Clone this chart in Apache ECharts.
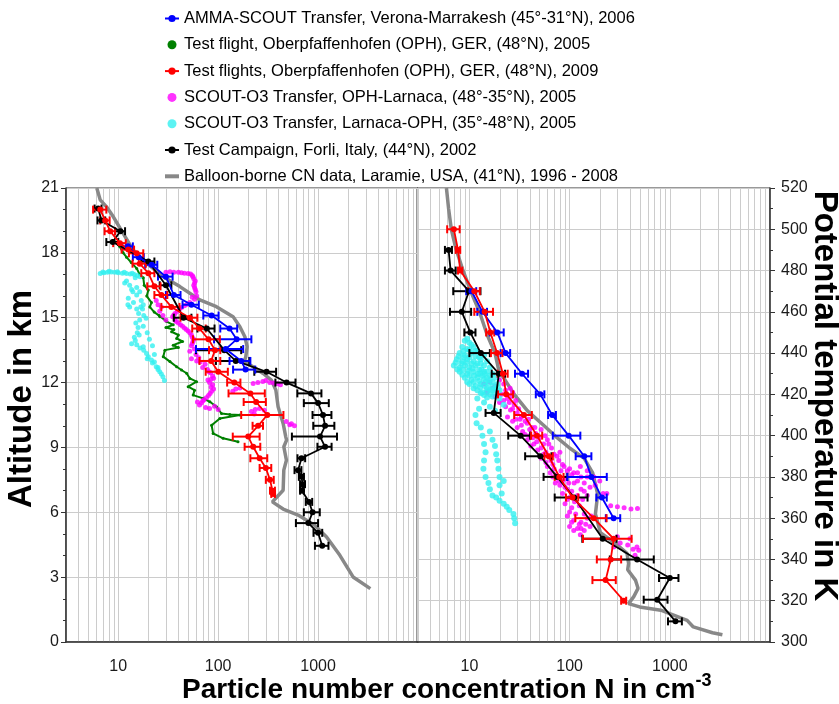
<!DOCTYPE html>
<html><head><meta charset="utf-8">
<script src="https://cdn.jsdelivr.net/npm/echarts@6/dist/echarts.min.js"></script>
<style>html,body{margin:0;padding:0;background:#fff}#c{width:839px;height:704px}</style>
</head><body><div id="c"></div>
<script>
// ---------- tick labels / axis ranges ----------
const xTickLabels = [10, 100, 1000];
const minorXTicks = [4,5,6,7,8,9,20,30,40,50,60,70,80,90,200,300,400,500,600,700,800,900,2000,3000,4000,5000,6000,7000,8000,9000];
const altRange = [0, 21, 3];
const thetaRange = [300, 520, 20];
const xRange = [3, 10000];

// ---------- legend names ----------
const nAmma = 'AMMA-SCOUT Transfer, Verona-Marrakesh (45°-31°N), 2006';
const nTf05 = 'Test flight, Oberpfaffenhofen (OPH), GER, (48°N), 2005';
const nTf09 = 'Test flights, Oberpfaffenhofen (OPH), GER, (48°N), 2009';
const nOut = 'SCOUT-O3 Transfer, OPH-Larnaca, (48°-35°N), 2005';
const nIn = 'SCOUT-O3 Transfer, Larnaca-OPH, (35°-48°N), 2005';
const nForli = 'Test Campaign, Forli, Italy, (44°N), 2002';
const nBalloon = 'Balloon-borne CN data, Laramie, USA, (41°N), 1996 - 2008';

// ---------- LEFT PANEL: [N (cm^-3), altitude (km), (error)] ----------
const balloonAlt = [[6.1,21.0],[6.6,20.45],[7.6,20.14],[8.9,19.68],[11.2,18.9],[14.1,18.13],[19.2,17.52],[28.2,16.9],[41.4,16.44],[65.6,15.82],[96,15.51],[141,15.05],[165,14.58],[185,14.12],[195,13.66],[189,13.19],[182,12.96],[224,12.73],[282,12.42],[341,12.11],[378,11.65],[398,10.88],[447,10.11],[475,9.49],[484,9.34],[454,9.03],[482,8.41],[454,7.95],[447,7.02],[349,6.48],[447,6.15],[631,5.87],[925,5.4],[1216,4.86],[1652,4.01],[2239,3.01],[3336,2.47]];
const forliAlt = [[6.3,20.05,0.5],[6.8,19.5,0.6],[10.5,19.0,1.2],[8.8,18.5,1.2],[20,17.6,3],[30,16.5,4],[45,15.0,9],[77,14.5,15],[115,13.5,55],[150,13.0,55],[305,12.5,75],[484,12.0,110],[850,11.5,230],[1000,11.05,280],[1120,10.5,240],[1175,10.0,280],[1047,9.5,500],[1175,9.03,190],[682,8.5,60],[631,7.95,50],[682,7.64,40],[700,7.3,40],[690,7.0,30],[813,6.48,60],[880,6.0,160],[800,5.5,200],[1000,5.05,100],[1100,4.45,170]];
const redAlt = [[6.6,20.0,1.0],[7.4,19.5,0.8],[8.3,19.0,1.0],[10.4,18.45,1.5],[12.6,18.15,1.8],[15.3,17.98,2.5],[16.4,17.5,2.5],[20,17.06,3],[23,16.45,3.5],[27,16.05,4],[34,15.5,7],[52,15.0,10],[65,14.5,10],[80,14.0,24],[93,13.5,12],[85,13.0,20],[100,12.5,25],[145,12.0,22],[210,11.5,83],[240,11.1,60],[310,10.5,140],[251,10.0,30],[200,9.5,60],[224,9.03,40],[260,8.5,50],[300,8.05,40],[330,7.5,30],[350,7.0,20],[355,6.85,15]];
const blueAlt = [[12.5,18.3,1.5],[16,17.8,2],[21.6,17.45,3],[30,16.9,5],[36,16.05,6],[54,15.6,10],[86,15.1,15],[130,14.5,25],[153,14.0,62],[119,13.55,59],[170,13.0,40],[188,12.6,47]];
const greenAlt = [[9.3,18.5],[10.3,18.3],[11.2,18.0],[12.1,17.8],[13.5,17.55],[15.3,17.28],[16.4,17.0],[17.8,16.85],[18.2,16.5],[20,16.28],[19.3,16.0],[21.5,15.7],[20.7,15.5],[22.9,15.26],[25.7,15.1],[26.1,15.05],[30.5,14.82],[35.5,14.67],[30,14.55],[36,14.45],[34.2,14.35],[40,14.2],[38.4,14.04],[44,13.9],[35.5,13.73],[40,13.62],[29.3,13.5],[28.2,13.2],[32.9,12.97],[38.4,12.73],[43,12.58],[48.3,12.43],[52.1,12.19],[60.8,12.04],[50.1,11.81],[58,11.65],[56.2,11.42],[70.8,11.27],[82.6,11.11],[96.3,10.88],[108,10.57],[131,10.52],[165,10.5],[104,10.34],[85.9,10.03],[89,9.65],[112,9.42],[158,9.26]];
const magentaAlt = [[30,17.1],[33,17.13],[36,17.1],[40,17.1],[43,17.08],[46,17.06],[50,17.05],[53,17.02],[55,16.95],[57,16.8],[58,16.6],[58,16.4],[60,16.2],[61,16.0],[58,15.85],[52,15.7],[46,15.55],[41,15.4],[37,15.2],[35,15.05],[37,14.9],[40,14.75],[44,14.6],[48,14.45],[52,14.3],[55,14.1],[56,13.9],[54,13.7],[52,13.45],[54,13.1],[61,13.0],[66,12.95],[70,12.7],[78,12.6],[84,12.45],[88,12.3],[85,12.15],[79,12.12],[82,12.0],[85,11.8],[86,11.6],[80,11.4],[72,11.2],[68,11.05],[65,10.96],[75,10.85],[82,10.8],[27,15.5],[26,15.3],[28,15.1],[30,14.9],[24,15.8],[25,15.6],[224,11.96],[250,12.0],[280,12.05],[300,12.1],[328,12.0],[360,11.98],[390,11.95],[420,11.9],[150,11.7],[165,11.75],[140,11.6],[215,10.66],[235,10.75],[260,10.8],[290,10.72],[230,10.55],[480,10.2],[541,10.1],[580,10.0],[520,10.05],
  [56,16.9],[59,16.7],[57,16.5],[59,16.3],[55,15.95],[49,15.62],[43,15.47],[39,15.3],[36,15.12],[38,14.82],[42,14.68],[46,14.52],[50,14.38],[54,14.2],[57,14.0],[55,13.8],[58,13.55],[60,13.3],[64,13.15],[74,12.85],[81,12.5],[90,12.2],[88,11.9],[90,11.7],[83,11.5],[76,11.3],[70,11.15],[62,11.1],[92,10.9],[100,10.75]];
const cyanAlt = [[6.6,17.05],[7.2,17.08],[7.8,17.1],[8.5,17.12],[9.2,17.1],[10,17.08],[11,17.06],[12.1,17.05],[13.2,17.02],[14.5,17.0],[15.5,16.95],[16.5,16.9],[12.1,16.7],[11.6,16.6],[13.6,16.3],[15.3,16.4],[14,16.2],[15.3,16.05],[13,15.5],[12.5,15.6],[15.3,15.4],[17.8,15.6],[16,15.2],[16.4,14.9],[15,14.75],[17.8,14.6],[15.5,14.3],[14.5,14.1],[13.6,13.8],[15.3,13.75],[17.8,13.66],[19.2,13.35],[18,13.5],[21.5,13.04],[20,13.2],[24,12.73],[22,12.9],[26,12.5],[28,12.27],[29,12.1],[16.4,16.2],[17,15.8],[17.5,15.4],[18,15.1],[19,14.97],[19.5,14.3],[20.5,14.0],[22,13.7],[23,13.3],[25,12.7],[27,12.4],
  [7,17.12],[8.1,17.15],[9.8,17.13],[11.5,17.1],[13.8,17.06],[14.8,16.85],[13,16.5],[12.6,15.9],[14.2,15.7],[16.8,15.5],[15.8,14.55],[16.2,14.2],[14.8,13.95],[16.5,13.6],[19.5,13.1],[23,12.95],[25,12.6]];

// ---------- RIGHT PANEL: [N (cm^-3), potential temperature (K), (error)] ----------
const balloonTh = [[5.9,520],[6.2,510],[6.6,500],[7.3,491],[8.5,481],[10.3,470],[12.6,460],[15,449],[18,440],[19.8,431],[22,428],[28,420],[38,412],[55,405],[75,399],[100,394],[140,389],[170,382],[190,372],[187,368],[181,362],[203,353],[300,347],[374,343],[388,338],[380,335],[454,330],[482,326],[437,322],[388,318.6],[500,317],[813,315.4],[1490,310.5],[1718,307.3],[2667,304.5],[3350,303.5]];
const forliTh = [[6.2,490,0.5],[6.5,480,0.8],[9.9,470,3],[8.4,460,2],[10.2,450,1.3],[13,440,3],[19.7,430,3],[17.5,411,3],[32.4,400,8],[51,390,15],[75,380,20],[111,370,40],[214,350,80],[472,340,220],[1000,331,220],[749,320.5,200],[1140,310,180]];
const redTh = [[7.0,500,1],[7.7,490,0.4],[8.1,480,0.4],[11.2,470,1.5],[14.2,460,3],[16.2,450,1.5],[18.9,440,2.5],[21.6,430,2.5],[23.3,420,4],[35,410,7],[47.3,400,6],[62,390,6],[79,380,8],[107,370,15],[174,360,60],[276,350,140],[257,340,70],[229,330,60],[347,320,20]];
const blueTh = [[10.5,470,1.2],[13.5,460,1.5],[19,450,3],[23,440,2.5],[33.5,430,5],[51,420,5],[67,410,6],[98,400,30],[140,390,25],[165,380,70],[210,370,25],[275,360,45]];
const magentaTh = [[13.9,425],[16,426],[18,424],[20,427],[22,425],[25.5,423],[15,421],[18,419],[21,420],[24,418],[27,421],[20,416],[23,414],[25.7,412.4],[28,415],[30,411],[24,409],[27,407],[32,408],[35,410],[30,404],[37.8,406],[42,404],[34,402],[40,400],[46,401],[52,403],[38,398],[44,396],[55,396],[60,398],[48,393],[58,392],[66,394],[52,389],[65,388],[75,390],[80,392],[60,385],[70,384],[85,386],[95,383],[68,380],[78,378],[90,379],[105,381],[120,382],[128,385],[150,383],[80,376],[95,374],[111,377],[130,380],[150,380],[175,380],[200,378],[216,372],[85,372],[100,370],[120,371],[140,373],[160,375],[235,372],[90,367],[105,365],[125,366],[257,366],[300,365.5],[350,365],[410,364.5],[476,364.7],[95,361],[110,359],[130,358],[150,360],[100,356],[120,355],[140,354],[160,356],[128,352],[276,346],[320,348],[380,347],[430,345],[470,346],[490,344.5],[300,351],[400,350],[450,342],
  [17,423],[19,421.5],[23,422],[26,419],[22,417],[25,416],[29,417],[27,413],[31,413],[33,409],[29,408],[36,407],[39,408],[33,405],[40,403],[45,404],[36,400.5],[43,399],[50,399],[57,400],[41,395],[47,397],[52,394],[62,396],[55,391],[62,390],[70,391],[58,387],[68,386],[78,388],[88,385],[64,382],[74,381],[82,383],[100,384],[110,382],[72,377],[85,378],[98,377],[120,378],[140,377],[90,375],[105,373],[130,374],[180,376],[95,369],[112,368],[135,369],[150,371],[100,363],[115,362],[140,362],[165,361],[105,358],[125,357],[145,357],[110,354],[130,355]];
const cyanTh = [[9,446],[10,445],[8.5,443],[9.5,442],[11,443],[8,440],[9,439],[10.5,440],[12,441],[7.5,437],[8.5,436],[9.5,437],[11,436],[12.5,438],[14,439],[7,434],[8,433],[9,434],[10,433],[11.5,434],[13,435],[15,436],[8,431],[9.5,430],[11,431],[12.5,432],[14,431],[16,433],[9,428],[10.5,427],[12,428],[13.5,429],[15,428],[17,430],[10,425],[11.5,424],[13,425],[14.5,426],[16,427],[18,428],[12,422],[13.5,421],[15,423],[17,424],[19,425],[14,419.7],[16,420],[18,421],[20,422],[12,418],[14,416],[16,414],[18,412],[22,415],[20,418],[11.5,410],[11.8,406],[13,404],[13.5,400],[14,396],[14.5,392],[14,388],[13.8,384],[14.5,380],[15.5,377],[16,374],[17,371],[18.5,370],[20,368.5],[22,367],[23.6,365.5],[25,364],[27.5,362],[28,360],[28.6,357.5],[16,402],[17,398],[18,395],[18.5,391],[19,388],[19.5,384],[20,380],[20,376],[21,372],[22,378],[12.5,413],
  [9.5,447],[10.5,444],[8.8,441],[10,441.5],[11.5,441],[7.8,438.5],[8.8,438],[10,438],[11.5,438.5],[13,437],[7.3,435.5],[8.3,435],[9.3,435.5],[10.5,435],[12,435],[14,434],[7.6,432],[8.6,432],[9.8,431.5],[10.8,432.5],[12.2,430],[13.2,432],[15,431],[8.5,429.5],[10,429],[11.2,429],[12.8,430],[14.2,430],[16,429],[9.5,426],[11,426],[12.5,426.5],[14,427.5],[15.5,425.5],[17,426],[11,423],[12.8,423.5],[14.2,424],[16,422.5],[18,423],[13,420.5],[15,421.5],[17,422],[19,423.5],[15,418.5],[17,419]];

// ---------- colours ----------
const C = {blue:'#0000ff', green:'#008000', red:'#ff0000', mag:'#ff00ff', cyan:'#33f0f0', black:'#000000', gray:'#888888'};
const FONT = 'Liberation Sans, Arial, sans-serif';
const GRIDC = '#cccccc';

function gridSeries(idx, yBase) {
  return {type:'custom', xAxisIndex:idx, yAxisIndex:idx, silent:true, z:0,
    data: minorXTicks.map(v => [v, yBase]), encode:{x:0, y:1},
    renderItem(params, api) {
      const p = api.coord([api.value(0), api.value(1)]);
      const cs = params.coordSys;
      const x = Math.round(p[0]) + 0.5;
      return {type:'line', shape:{x1:x, y1:cs.y, x2:x, y2:cs.y + cs.height}, style:{stroke:GRIDC, lineWidth:1}};
    }};
}
function errSeries(name, color, rows, idx) {
  return {type:'custom', name: name + ' err', xAxisIndex:idx, yAxisIndex:idx, silent:true, z:3,
    data: rows, encode:{x:0, y:1},
    renderItem(params, api) {
      const n = api.value(0), y = api.value(1), e = api.value(2);
      const a = api.coord([Math.max(n - e, 3.02), y]);
      const b = api.coord([n + e, y]);
      const st = {stroke: color, lineWidth: 2};
      const c = 4;
      return {type:'group', children:[
        {type:'line', shape:{x1:a[0], y1:a[1], x2:b[0], y2:b[1]}, style:st},
        {type:'line', shape:{x1:a[0], y1:a[1]-c, x2:a[0], y2:a[1]+c}, style:st},
        {type:'line', shape:{x1:b[0], y1:b[1]-c, x2:b[0], y2:b[1]+c}, style:st}
      ]};
    }};
}
function lineSeries(name, color, rows, idx, width, size, z) {
  return {type:'line', name, xAxisIndex:idx, yAxisIndex:idx, silent:true, z: z || 4,
    data: rows.map(r => [r[0], r[1]]),
    symbol: size ? 'circle' : 'none', symbolSize: size || 0, showSymbol: !!size,
    lineStyle:{color, width}, itemStyle:{color}};
}
function scatterSeries(name, color, rows, idx, size) {
  return {type:'scatter', name, xAxisIndex:idx, yAxisIndex:idx, silent:true, z:2,
    data: rows, symbol:'circle', symbolSize:size, itemStyle:{color}};
}
function xAxisCfg(i) {
  return {type:'log', logBase:10, gridIndex:i, min:xRange[0], max:xRange[1],
    axisLine:{show:true, lineStyle:{color:'#333', width:1.5}},
    axisTick:{show:false},
    axisLabel:{fontSize:16, fontFamily:FONT, color:'#1a1a1a', margin:17,
      formatter: v => xTickLabels.includes(Math.round(v)) ? String(Math.round(v)) : ''},
    splitLine:{show:true, lineStyle:{color:GRIDC, width:1}}};
}

const series = [
  gridSeries(0, altRange[0]),
  gridSeries(1, thetaRange[0]),
  lineSeries(nBalloon, C.gray, balloonAlt, 0, 3.5, 0, 2),
  lineSeries(nBalloon, C.gray, balloonTh, 1, 3.5, 0, 2),
  {type:'line', name:nTf05, xAxisIndex:0, yAxisIndex:0, silent:true, z:2,
    data: greenAlt, symbol:'circle', symbolSize:3, lineStyle:{color:C.green, width:2}, itemStyle:{color:C.green}},
  scatterSeries(nOut, C.mag, magentaAlt, 0, 5),
  scatterSeries(nOut, C.mag, magentaTh, 1, 5),
  scatterSeries(nIn, C.cyan, cyanAlt, 0, 5),
  scatterSeries(nIn, C.cyan, cyanTh, 1, 6),
  errSeries(nForli, C.black, forliAlt, 0),
  errSeries(nForli, C.black, forliTh, 1),
  lineSeries(nForli, C.black, forliAlt, 0, 1.8, 6),
  lineSeries(nForli, C.black, forliTh, 1, 1.8, 6),
  errSeries(nAmma, C.blue, blueAlt, 0),
  errSeries(nAmma, C.blue, blueTh, 1),
  lineSeries(nAmma, C.blue, blueAlt, 0, 1.8, 6),
  lineSeries(nAmma, C.blue, blueTh, 1, 1.8, 6),
  errSeries(nTf09, C.red, redAlt, 0),
  errSeries(nTf09, C.red, redTh, 1),
  lineSeries(nTf09, C.red, redAlt, 0, 1.8, 6),
  lineSeries(nTf09, C.red, redTh, 1, 1.8, 6)
];

const option = {
  animation:false,
  backgroundColor:'#ffffff',
  legend:{
    orient:'vertical', left:159, top:5, itemGap:9.3, itemWidth:14, itemHeight:9,
    selectedMode:false,
    textStyle:{fontSize:16.5, fontFamily:'Liberation Sans, Arial', color:'#000'},
    data:[
      {name:nAmma},
      {name:nTf05, icon:'circle'},
      {name:nTf09},
      {name:nOut, icon:'circle'},
      {name:nIn, icon:'circle'},
      {name:nForli},
      {name:nBalloon, icon:'path://M0,0 L14,0 L14,4 L0,4 Z'}
    ]
  },
  grid:[
    {left:66, top:188, width:352, height:454, show:true, borderColor:'#333', borderWidth:1, backgroundColor:'transparent'},
    {left:417, top:188, width:353, height:454, show:true, borderColor:'#333', borderWidth:1, backgroundColor:'transparent'}
  ],
  xAxis:[xAxisCfg(0), xAxisCfg(1)],
  yAxis:[
    {type:'value', gridIndex:0, min:altRange[0], max:altRange[1], interval:altRange[2], position:'left',
      axisLine:{show:true, lineStyle:{color:'#333', width:1.5}},
      axisTick:{show:true, length:5, lineStyle:{color:'#333'}},
      minorTick:{show:true, splitNumber:3, length:3, lineStyle:{color:'#333'}},
      axisLabel:{fontSize:16, fontFamily:FONT, color:'#1a1a1a', margin:7},
      splitLine:{show:true, lineStyle:{color:GRIDC, width:1}}},
    {type:'value', gridIndex:1, min:thetaRange[0], max:thetaRange[1], interval:thetaRange[2], position:'right',
      axisLine:{show:true, lineStyle:{color:'#333', width:1.5}},
      axisTick:{show:true, length:5, lineStyle:{color:'#333'}},
      minorTick:{show:true, splitNumber:2, length:3, lineStyle:{color:'#333'}},
      axisLabel:{fontSize:16, fontFamily:FONT, color:'#1a1a1a', margin:11},
      splitLine:{show:true, lineStyle:{color:GRIDC, width:1}}}
  ],
  graphic:[
    {type:'text', x:22, y:399, rotation:Math.PI/2, silent:true,
      style:{text:'Altitude in km', font:'bold 33px Liberation Sans, Arial', fill:'#000',
        align:'center', verticalAlign:'middle', textAlign:'center', textVerticalAlign:'middle'}},
    {type:'text', x:824, y:396, rotation:-Math.PI/2, silent:true,
      style:{text:'Potential temperature in K', font:'bold 33px Liberation Sans, Arial', fill:'#000',
        align:'center', verticalAlign:'middle', textAlign:'center', textVerticalAlign:'middle'}},
    {type:'text', x:182, y:690, silent:true,
      style:{text:'{a|Particle number concentration N in cm}{b|-3}', fill:'#000',
        align:'left', verticalAlign:'middle', textAlign:'left', textVerticalAlign:'middle',
        rich:{a:{fontSize:28, fontWeight:'bold', fontFamily:'Liberation Sans, Arial', lineHeight:36, fill:'#000', color:'#000'},
              b:{fontSize:18, fontWeight:'bold', fontFamily:'Liberation Sans, Arial', lineHeight:18, verticalAlign:'top', fill:'#000', color:'#000'}}}}
  ],
  series
};
const chart = echarts.init(document.getElementById('c'), null, {renderer:'canvas'});
chart.setOption(option);
</script>
</body></html>
